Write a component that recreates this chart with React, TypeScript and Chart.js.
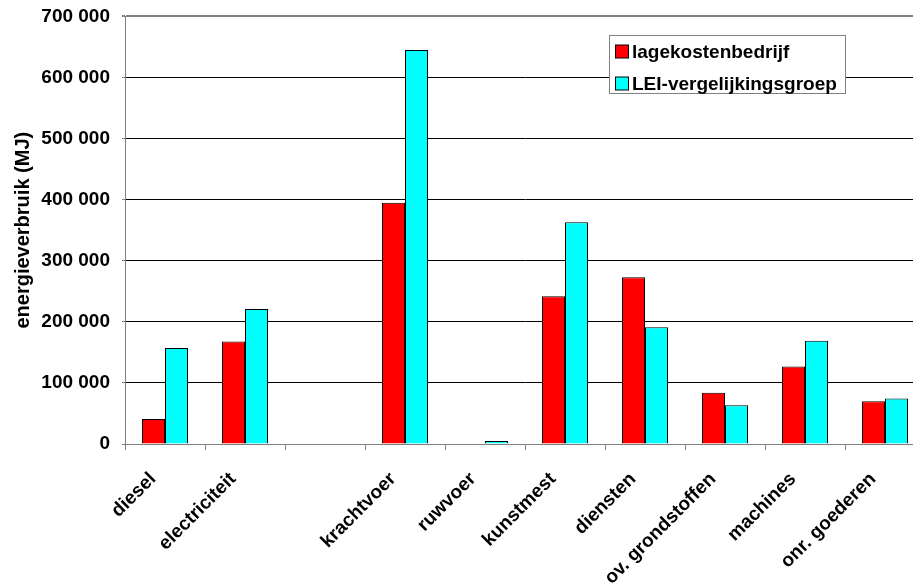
import React, { useEffect, useRef } from "react";
import { Chart, registerables } from "chart.js";

Chart.register(...registerables);

const categories = [
  "diesel",
  "electriciteit",
  "",
  "krachtvoer",
  "ruwvoer",
  "kunstmest",
  "diensten",
  "ov. grondstoffen",
  "machines",
  "onr. goederen",
];
const lagekostenbedrijf = [41000, 168000, null, 395000, 0, 242000, 273000, 84000, 127000, 70000];
const leiVergelijkingsgroep = [157000, 221000, null, 645000, 5000, 363000, 191000, 63500, 169000, 74500];
const seriesNames = ["lagekostenbedrijf", "LEI-vergelijkingsgroep"];
const seriesColors = ["#FF0000", "#00FFFF"];
const yTitle = "energieverbruik (MJ)";
const yMax = 700000;
const yStep = 100000;

const FONT = '"Liberation Sans", Arial, sans-serif';
const SHIFT = 7;

function fmt(v: number) {
  return String(v).replace(/\B(?=(\d{3})+(?!\d))/g, " ");
}

const boxLegend = {
  id: "boxLegend",
  afterDraw(chart: any) {
    const ctx = chart.ctx;
    ctx.save();
    const x = 609.5, y = 35.5 + SHIFT, w = 236, h = 58;
    ctx.fillStyle = "#ffffff";
    ctx.fillRect(x, y, w, h);
    ctx.strokeStyle = "#808080";
    ctx.lineWidth = 1;
    ctx.strokeRect(x, y, w, h);
    ctx.font = `bold 19px ${FONT}`;
    ctx.textBaseline = "middle";
    ctx.textAlign = "left";
    chart.data.datasets.forEach((ds: any, i: number) => {
      const cy = 51.5 + SHIFT + i * 32;
      ctx.fillStyle = ds.backgroundColor;
      ctx.fillRect(615.5, cy - 6.5, 13, 13);
      ctx.strokeStyle = "#000";
      ctx.strokeRect(615.5, cy - 6.5, 13, 13);
      ctx.fillStyle = "#000";
      ctx.fillText(ds.label, 632, cy + 1);
    });
    ctx.restore();
  },
};

export default function App() {
  const ref = useRef<HTMLCanvasElement | null>(null);
  useEffect(() => {
    if (!ref.current) return;
    const chart = new Chart(ref.current, {
      type: "bar",
      data: {
        labels: categories,
        datasets: [
          {
            label: seriesNames[0],
            data: lagekostenbedrijf,
            backgroundColor: seriesColors[0],
            borderColor: "#000",
            borderWidth: 1,
            categoryPercentage: 0.575,
            barPercentage: 1,
          },
          {
            label: seriesNames[1],
            data: leiVergelijkingsgroep,
            backgroundColor: seriesColors[1],
            borderColor: "#000",
            borderWidth: 1,
            categoryPercentage: 0.575,
            barPercentage: 1,
          },
        ],
      },
      options: {
        responsive: false,
        animation: false,
        layout: { padding: { top: 8, right: 15, bottom: 0, left: 0 } },
        plugins: { legend: { display: false }, tooltip: { enabled: false } },
        scales: {
          x: {
            grid: {
              display: true,
              offset: true,
              drawOnChartArea: false,
              drawTicks: true,
              tickLength: 6,
              color: "#808080",
            },
            border: { color: "#808080", width: 1 },
            ticks: {
              minRotation: 45,
              maxRotation: 45,
              autoSkip: false,
              color: "#000",
              padding: 18,
              labelOffset: -12,
              font: { family: FONT, size: 19, weight: "bold" },
            },
            afterFit(scale: any) {
              scale.height = 140;
            },
          },
          y: {
            min: 0,
            max: yMax,
            ticks: {
              stepSize: yStep,
              color: "#000",
              padding: 12,
              font: { family: FONT, size: 19, weight: "bold" },
              callback: (v: any) => fmt(Number(v)),
            },
            grid: {
              color: (c: any) =>
                c.tick && (c.tick.value === yMax || c.tick.value === 0) ? "#808080" : "#000",
              lineWidth: (c: any) => (c.tick && c.tick.value === yMax ? 2 : 1),
              tickLength: 3,
              tickColor: "#808080",
            },
            border: { color: "#808080", width: 1 },
            title: {
              display: true,
              text: yTitle,
              color: "#000",
              padding: { top: 11, bottom: 0 },
              font: { family: FONT, size: 20, weight: "bold" },
            },
            afterFit(scale: any) {
              scale.width = 125;
            },
          },
        },
      },
      plugins: [boxLegend],
    } as any);
    return () => chart.destroy();
  }, []);
  return (
    <div
      style={{
        position: "fixed",
        left: 0,
        top: 0,
        width: 913,
        height: 584,
        overflow: "hidden",
        background: "#fff",
      }}
    >
      <canvas
        ref={ref}
        width={940}
        height={584 + SHIFT}
        style={{ width: 940, height: 584 + SHIFT, display: "block", marginTop: -SHIFT }}
      />
    </div>
  );
}
